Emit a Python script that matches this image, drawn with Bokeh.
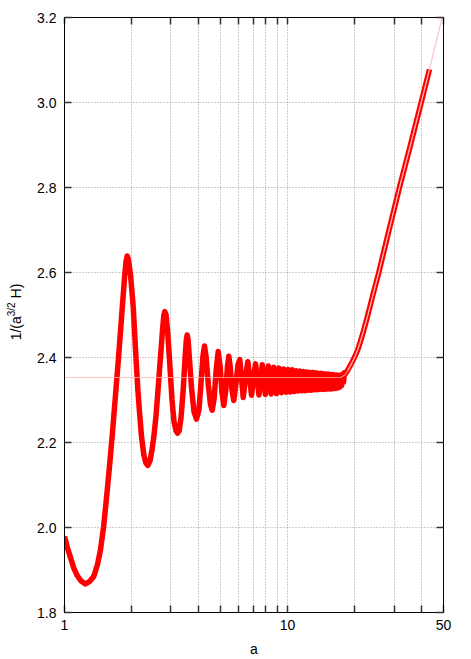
import math
from bokeh.plotting import figure
from bokeh.layouts import row
from bokeh.models import Range1d, FixedTicker, LogAxis, LinearAxis, PrintfTickFormatter, Div
from bokeh.embed import file_html
from bokeh.resources import INLINE

# ---- data ----
a_thick = [
    1.000, 1.030, 1.064, 1.100, 1.140, 1.186, 1.242, 1.295, 1.353, 1.406, 1.450, 1.496,
    1.543, 1.592, 1.642, 1.693, 1.746, 1.801, 1.858, 1.887, 1.911, 1.936,
    1.977, 2.033, 2.088, 2.132, 2.169, 2.215, 2.268, 2.315, 2.363, 2.418,
    2.468, 2.514, 2.567, 2.620, 2.681, 2.751, 2.788, 2.817, 2.852, 2.896,
    2.957, 3.034, 3.097, 3.161, 3.210, 3.267, 3.329, 3.405, 3.476, 3.516,
    3.548, 3.582, 3.634, 3.710, 3.807, 3.906, 4.008, 4.092, 4.177, 4.243,
    4.313, 4.412, 4.514, 4.594, 4.689, 4.787, 4.887, 4.989, 5.083, 5.178,
    5.286, 5.380, 5.452, 5.537, 5.635, 5.741, 5.861, 5.996, 6.108, 6.216,
    6.326, 6.478, 6.634, 6.765, 6.892, 7.036, 7.182,
    7.44, 7.70, 7.95, 8.20, 8.44, 8.68, 8.92, 9.16, 9.39, 9.61,
    9.84, 10.06, 10.28, 10.50, 10.72, 10.93, 11.14, 11.35, 11.56, 11.77,
    11.97, 12.17, 12.37, 12.57, 12.77, 12.97, 13.16, 13.35, 13.55, 13.74,
    13.92, 14.11, 14.30, 14.48, 14.67, 14.85, 15.03, 15.21, 15.39, 15.57,
    15.75, 15.92, 16.10, 16.27, 16.45, 16.62, 16.79, 16.96, 17.13, 17.30,
    17.47, 17.64, 17.81, 17.98,
    18.20, 18.60, 19.00, 19.50, 20.06, 20.60, 21.08, 21.90, 22.75, 24.10,
    25.64, 28.50, 31.74, 35.56, 39.72, 43.27,
]
y_thick = [
    1.979, 1.953, 1.929, 1.905, 1.887, 1.874, 1.867, 1.873, 1.885, 1.913, 1.948, 2.000,
    2.070, 2.145, 2.225, 2.312, 2.399, 2.493, 2.587, 2.625, 2.639, 2.629,
    2.594, 2.519, 2.406, 2.324, 2.272, 2.213, 2.171, 2.152, 2.146, 2.157,
    2.183, 2.213, 2.258, 2.317, 2.387, 2.465, 2.500, 2.508, 2.500, 2.465,
    2.394, 2.300, 2.249, 2.228, 2.222, 2.228, 2.258, 2.324, 2.404, 2.441,
    2.453, 2.441, 2.394, 2.329, 2.272, 2.255, 2.277, 2.340, 2.404, 2.427,
    2.401, 2.336, 2.289, 2.276, 2.305, 2.371, 2.414, 2.376, 2.317, 2.287,
    2.324, 2.380, 2.403, 2.376, 2.324, 2.299, 2.336, 2.383, 2.395, 2.352,
    2.306, 2.352, 2.390, 2.352, 2.311, 2.352, 2.385,
    2.312, 2.383, 2.313, 2.380, 2.314, 2.377, 2.315, 2.375, 2.317, 2.373,
    2.318, 2.372, 2.319, 2.371, 2.320, 2.369, 2.321, 2.368, 2.322, 2.367,
    2.322, 2.366, 2.323, 2.365, 2.323, 2.365, 2.324, 2.364, 2.324, 2.363,
    2.325, 2.363, 2.325, 2.362, 2.325, 2.361, 2.326, 2.361, 2.326, 2.360,
    2.326, 2.360, 2.327, 2.359, 2.327, 2.359, 2.328, 2.358, 2.330, 2.358,
    2.334, 2.361, 2.342, 2.364,
    2.362, 2.370, 2.379, 2.390, 2.403, 2.417, 2.433, 2.462, 2.494, 2.546,
    2.600, 2.700, 2.800, 2.900, 3.000, 3.078,
]
a_thin = [1.0, 17.3, 17.98, 18.6, 19.5, 20.06, 21.08, 22.75, 25.64, 31.74, 35.56, 39.72, 43.27, 49.3]
y_thin = [2.353, 2.353, 2.358, 2.368, 2.388, 2.401, 2.433, 2.494, 2.600, 2.800, 2.900, 3.000, 3.078, 3.200]

x_ticks = [1, 2, 3, 4, 5, 6, 7, 8, 9, 10, 20, 30, 40, 50]
x_tick_labels = {1: "1", 10: "10", 50: "50"}
y_ticks = [1.8, 2.0, 2.2, 2.4, 2.6, 2.8, 3.0, 3.2]

FONT = "Liberation Sans"
DIV_W = 28

p = figure(width=471 - DIV_W, height=659, x_axis_type="log",
           x_range=Range1d(1, 50), y_range=Range1d(1.8, 3.2),
           output_backend="svg", toolbar_location=None,
           min_border_left=64 - DIV_W, min_border_right=28,
           min_border_top=17, min_border_bottom=46)
p.background_fill_color = "white"
p.border_fill_color = "white"
p.outline_line_color = "black"
p.outline_line_width = 1

xa = p.below[0]
ya = p.left[0]
xa.ticker = FixedTicker(ticks=x_ticks)
xa.major_label_overrides = {t: x_tick_labels.get(t, "") for t in x_ticks}
ya.ticker = FixedTicker(ticks=y_ticks)
ya.formatter = PrintfTickFormatter(format="%.1f")

for ax in (xa, ya):
    ax.major_tick_in = 7
    ax.major_tick_out = 0
    ax.minor_tick_line_color = None
    ax.major_tick_line_color = "#333333"
    ax.major_tick_line_width = 1.5
    ax.axis_line_color = "black"
    ax.axis_line_width = 1
    ax.major_label_text_font = FONT
    ax.major_label_text_font_size = "14px"
    ax.major_label_text_color = "black"
xa.major_label_standoff = 7
ya.major_label_standoff = 8
xa.axis_label = "a"
xa.axis_label_text_font = FONT
xa.axis_label_text_font_size = "14px"
xa.axis_label_text_font_style = "normal"
xa.axis_label_text_color = "black"
xa.axis_label_standoff = 8

top = LogAxis(ticker=FixedTicker(ticks=x_ticks),
              major_label_overrides={t: "" for t in x_ticks})
right = LinearAxis(ticker=FixedTicker(ticks=y_ticks),
                   major_label_overrides={t: "" for t in y_ticks})
for ax in (top, right):
    ax.major_tick_in = 7
    ax.major_tick_out = 0
    ax.minor_tick_line_color = None
    ax.major_tick_line_color = "#333333"
    ax.major_tick_line_width = 1.5
    ax.axis_line_color = "black"
    ax.major_label_text_font_size = "0px"
    ax.major_label_standoff = 0
p.add_layout(top, "above")
p.add_layout(right, "right")

p.xgrid.grid_line_color = "#9a9a9a"
p.ygrid.grid_line_color = "#9a9a9a"
p.grid.grid_line_dash = "1 2"
p.grid.grid_line_width = 1

p.line(a_thick, y_thick, line_color="#ff0000", line_width=5.5, line_join="round")
a_gap = [a for a in a_thick if a >= 18.6]
y_gap = [y for a, y in zip(a_thick, y_thick) if a >= 18.6]
p.line(a_gap, y_gap, line_color="white", line_width=0.9, line_alpha=0.8, line_join="round")
p.line(a_thin, y_thin, line_color="#ffb0b0", line_width=1.2, line_alpha=0.75)

# rotated y-axis title with a real superscript
ylab_html = (
    '<div style="position:relative;width:%dpx;height:659px;">'
    '<div style="position:absolute;left:15px;top:312px;'
    'transform:translate(-50%%,-50%%) rotate(-90deg);white-space:nowrap;'
    "font-family:'Liberation Sans';font-size:14px;color:black;line-height:1;\">"
    '1/(a<sup style="font-size:10px">3/2</sup> H)</div></div>' % DIV_W
)
ylab = Div(text=ylab_html, width=DIV_W, height=659, margin=0)

layout = row(ylab, p, spacing=0)
open("out.html", "w").write(file_html(layout, INLINE))
